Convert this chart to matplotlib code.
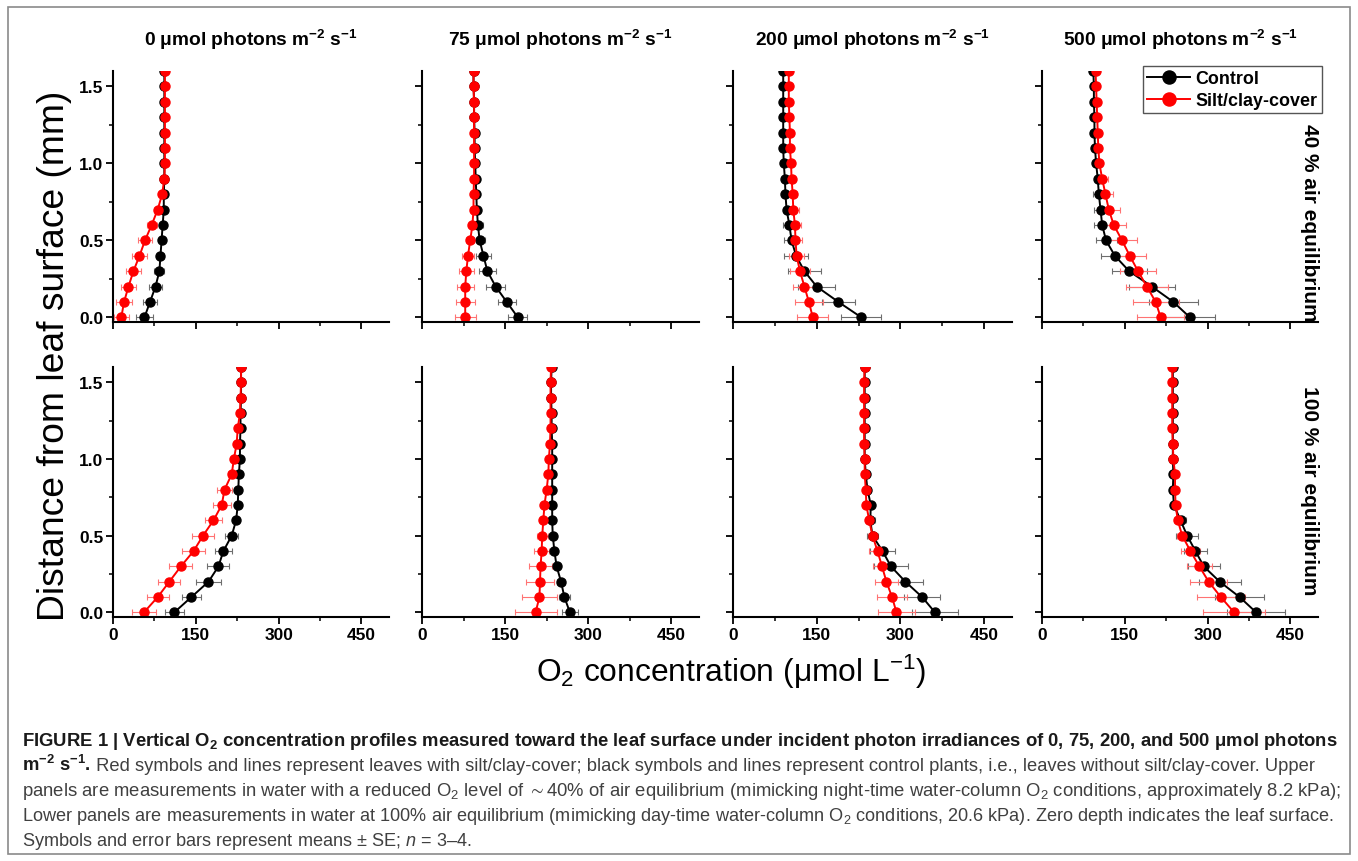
import matplotlib
matplotlib.use('Agg')
import matplotlib.pyplot as plt
from matplotlib.patches import Rectangle
from matplotlib.ticker import MultipleLocator, FormatStrFormatter

plt.rcParams['font.family'] = ['Liberation Sans', 'DejaVu Sans']
plt.rcParams['mathtext.fontset'] = 'custom'
plt.rcParams['mathtext.rm'] = 'Liberation Sans'
plt.rcParams['mathtext.it'] = 'Liberation Sans:italic'
plt.rcParams['mathtext.bf'] = 'Liberation Sans:bold'
plt.rcParams['mathtext.default'] = 'regular'

# depth above leaf surface (mm)
depth = [0.0, 0.1, 0.2, 0.3, 0.4, 0.5, 0.6, 0.7, 0.8, 0.9,
         1.0, 1.1, 1.2, 1.3, 1.4, 1.5, 1.6]

irradiance = ['0', '75', '200', '500']
row_labels = ['40 % air equilibrium', '100 % air equilibrium']

# ---- 40 % air equilibrium ----
ctrl_40_0 = [57, 67, 77, 84, 86, 88, 90, 92, 92, 93, 93, 93, 93, 93, 93, 93, 93]
silt_40_0 = [15, 20, 28, 37, 48, 58, 70, 81, 89, 93, 94, 94, 94, 94, 94, 94, 94]
ctrl_40_0_se = [15, 13, 11, 9, 6, 3, 3, 3, 3, 2, 2, 2, 2, 2, 2, 2, 2]
silt_40_0_se = [14, 14, 14, 14, 13, 12, 9, 6, 3, 2, 2, 2, 2, 2, 2, 2, 2]

ctrl_40_75 = [173, 153, 133, 118, 111, 104, 101, 99, 98, 97, 96, 95, 95, 94, 94, 93, 93]
silt_40_75 = [78, 78, 78, 80, 83, 87, 91, 93, 93, 94, 94, 94, 94, 94, 94, 93, 93]
ctrl_40_75_se = [17, 16, 17, 16, 13, 10, 9, 3, 3, 2, 2, 2, 2, 2, 2, 2, 2]
silt_40_75_se = [19, 17, 15, 13, 10, 7, 4, 3, 2, 2, 2, 2, 2, 2, 2, 2, 2]

ctrl_40_200 = [230, 189, 150, 128, 113, 105, 101, 96, 94, 93, 91, 90, 90, 90, 90, 90, 90]
silt_40_200 = [143, 136, 128, 120, 114, 112, 111, 108, 107, 105, 104, 102, 102, 101, 100, 100, 100]
ctrl_40_200_se = [36, 29, 33, 30, 22, 14, 12, 4, 4, 3, 3, 3, 3, 3, 3, 3, 3]
silt_40_200_se = [28, 25, 21, 18, 13, 12, 11, 10, 7, 4, 4, 3, 3, 3, 3, 3, 3]

ctrl_40_500 = [268, 238, 199, 158, 132, 116, 109, 106, 103, 101, 98, 96, 95, 95, 94, 94, 93]
silt_40_500 = [215, 206, 190, 174, 159, 145, 130, 121, 115, 109, 104, 102, 101, 100, 99, 98, 97]
ctrl_40_500_se = [46, 45, 42, 32, 26, 19, 15, 12, 10, 3, 3, 3, 3, 3, 3, 3, 3]
silt_40_500_se = [43, 42, 38, 33, 29, 27, 23, 21, 13, 11, 4, 3, 3, 3, 3, 3, 3]

# ---- 100 % air equilibrium ----
ctrl_100_0 = [111, 142, 173, 191, 200, 215, 223, 226, 227, 228, 230, 230, 231, 231, 232, 232, 232]
silt_100_0 = [56, 81, 102, 123, 146, 163, 182, 197, 202, 215, 219, 224, 226, 230, 231, 232, 232]
ctrl_100_0_se = [17, 17, 22, 20, 15, 12, 4, 4, 4, 3, 3, 3, 3, 3, 3, 3, 3]
silt_100_0_se = [21, 20, 20, 21, 21, 20, 16, 16, 14, 6, 4, 4, 3, 3, 3, 3, 3]

ctrl_100_75 = [267, 257, 251, 243, 239, 236, 235, 235, 235, 235, 235, 235, 234, 234, 233, 233, 234]
silt_100_75 = [205, 212, 213, 214, 216, 217, 219, 221, 225, 228, 229, 231, 232, 232, 232, 232, 233]
ctrl_100_75_se = [14, 10, 8, 4, 4, 3, 3, 3, 3, 3, 3, 3, 3, 3, 3, 3, 3]
silt_100_75_se = [38, 31, 25, 20, 14, 10, 4, 4, 3, 3, 3, 3, 3, 3, 3, 3, 3]

ctrl_100_200 = [362, 339, 309, 283, 268, 250, 246, 247, 241, 238, 236, 236, 236, 236, 236, 236, 236]
silt_100_200 = [293, 285, 275, 267, 259, 250, 244, 239, 238, 236, 236, 235, 235, 235, 235, 235, 236]
ctrl_100_200_se = [41, 32, 31, 31, 23, 9, 8, 6, 3, 3, 3, 3, 3, 3, 3, 3, 3]
silt_100_200_se = [33, 27, 21, 16, 15, 8, 4, 4, 3, 3, 3, 3, 3, 3, 3, 3, 3]

ctrl_100_500 = [388, 358, 322, 293, 278, 263, 251, 239, 237, 238, 237, 237, 237, 237, 237, 237, 237]
silt_100_500 = [348, 324, 302, 285, 269, 254, 246, 242, 241, 241, 238, 237, 236, 236, 236, 236, 236]
ctrl_100_500_se = [53, 45, 38, 29, 21, 20, 9, 4, 4, 3, 3, 3, 3, 3, 3, 3, 3]
silt_100_500_se = [56, 44, 33, 23, 17, 10, 6, 4, 4, 3, 3, 3, 3, 3, 3, 3, 3]

ctrl = [[ctrl_40_0, ctrl_40_75, ctrl_40_200, ctrl_40_500],
        [ctrl_100_0, ctrl_100_75, ctrl_100_200, ctrl_100_500]]
silt = [[silt_40_0, silt_40_75, silt_40_200, silt_40_500],
        [silt_100_0, silt_100_75, silt_100_200, silt_100_500]]
ctrl_se = [[ctrl_40_0_se, ctrl_40_75_se, ctrl_40_200_se, ctrl_40_500_se],
           [ctrl_100_0_se, ctrl_100_75_se, ctrl_100_200_se, ctrl_100_500_se]]
silt_se = [[silt_40_0_se, silt_40_75_se, silt_40_200_se, silt_40_500_se],
           [silt_100_0_se, silt_100_75_se, silt_100_200_se, silt_100_500_se]]

W, H = 1358, 862
fig = plt.figure(figsize=(W / 100, H / 100), dpi=100)


def box(l, t, r, b):
    return [l / W, 1 - b / H, (r - l) / W, (b - t) / H]


cols = [(113, 389), (422, 699), (733, 1012), (1042, 1318)]
rows = [(72, 323), (368, 618)]

fig.patches.append(Rectangle((8 / W, 1 - 855 / H), (1350 - 8) / W, (855 - 8) / H,
                             transform=fig.transFigure, fill=False,
                             edgecolor='#8a8a8a', lw=1.2))

for i, (t, b) in enumerate(rows):
    for j, (l, r) in enumerate(cols):
        ax = fig.add_axes(box(l, t, r, b))
        ax.errorbar(ctrl[i][j], depth, xerr=ctrl_se[i][j], fmt='none',
                    ecolor='#6e6e6e', elinewidth=0.8, capsize=2, capthick=0.8)
        ax.errorbar(silt[i][j], depth, xerr=silt_se[i][j], fmt='none',
                    ecolor='#ff7373', elinewidth=0.8, capsize=2, capthick=0.8)
        ax.plot(ctrl[i][j], depth, '-o', color='black', lw=1.4, ms=6.5,
                label='Control')
        ax.plot(silt[i][j], depth, '-o', color='#ff0000', lw=1.4, ms=6.5,
                label='Silt/clay-cover')
        ax.set_xlim(0, 500)
        ax.set_ylim(-0.03, 1.6)
        ax.xaxis.set_major_locator(MultipleLocator(150))
        ax.xaxis.set_minor_locator(MultipleLocator(75))
        ax.yaxis.set_major_locator(MultipleLocator(0.5))
        ax.yaxis.set_minor_locator(MultipleLocator(0.25))
        ax.yaxis.set_major_formatter(FormatStrFormatter('%.1f'))
        for s in ['top', 'right']:
            ax.spines[s].set_visible(False)
        for s in ['left', 'bottom']:
            ax.spines[s].set_linewidth(1.5)
        ax.tick_params(which='major', direction='out', length=5, width=1.3,
                       labelsize=12.5, pad=2)
        ax.tick_params(which='minor', direction='out', length=3, width=1.1)
        for lab in ax.get_xticklabels() + ax.get_yticklabels():
            lab.set_fontweight('bold')
        if j > 0:
            ax.tick_params(labelleft=False)
        if i == 0:
            ax.tick_params(labelbottom=False)
            ax.set_title(irradiance[j] + r' μmol photons m$^{-2}$ s$^{-1}$',
                         fontsize=13.8, fontweight='bold', pad=19)
        if j == 3:
            ax.text(0.97, 0.40 if i == 0 else 0.51, row_labels[i],
                    transform=ax.transAxes, rotation=270, ha='center',
                    va='center', fontsize=15, fontweight='bold')
            if i == 0:
                leg = ax.legend(loc='upper right', bbox_to_anchor=(1.015, 1.02),
                                borderaxespad=0, fancybox=False,
                                edgecolor='#555555', framealpha=1,
                                markerscale=1.45, handlelength=2.4,
                                handletextpad=0.3, borderpad=0.25,
                                labelspacing=0.25,
                                prop={'weight': 'bold', 'size': 12.9})
                leg.get_frame().set_linewidth(1.0)

fig.text(55 / W, 1 - 356 / H, 'Distance from leaf surface (mm)', rotation=90,
         ha='center', va='center', fontsize=26.8)
fig.text(731 / W, 1 - 672 / H, r'O$_2$ concentration (μmol L$^{-1}$)',
         ha='center', va='center', fontsize=22.9)

# caption, lines sized to the width they take in the figure
renderer = fig.canvas.get_renderer()
ink = '#1a1a1a'
grey = '#404040'


def fitted(txt, x, y, right, **kw):
    t = fig.text(x / W, 1 - y / H, txt, ha='left', va='baseline', fontsize=12, **kw)
    wpx = t.get_window_extent(renderer).width
    t.set_fontsize(12 * (right - x) / wpx)
    return t


b1 = fitted(r'FIGURE 1 | Vertical O$_2$ concentration profiles measured toward the leaf '
            r'surface under incident photon irradiances of 0, 75, 200, and 500 μmol photons',
            22, 746, 1338, fontweight='bold', color=ink)
b2 = fig.text(22 / W, 1 - 771 / H, r'm$^{-2}$ s$^{-1}$.', ha='left', va='baseline',
              fontsize=b1.get_fontsize(), fontweight='bold', color=ink)
x2 = b2.get_window_extent(renderer).x1
fitted(' Red symbols and lines represent leaves with silt/clay-cover; black symbols '
       'and lines represent control plants, i.e., leaves without silt/clay-cover. Upper',
       x2, 771, 1312, color=grey)
fitted(r'panels are measurements in water with a reduced O$_2$ level of $\sim$40% of air '
       r'equilibrium (mimicking night-time water-column O$_2$ conditions, '
       r'approximately 8.2 kPa);', 22, 796, 1342, color=grey)
r4 = fitted(r'Lower panels are measurements in water at 100% air equilibrium (mimicking '
            r'day-time water-column O$_2$ conditions, 20.6 kPa). Zero depth indicates the '
            r'leaf surface.', 22, 821, 1335, color=grey)
fig.text(22 / W, 1 - 846 / H, r'Symbols and error bars represent means ± SE; $\it{n}$ = 3–4.',
         ha='left', va='baseline', fontsize=r4.get_fontsize(), color=grey)

fig.savefig('out.png', dpi=100, facecolor='white')
